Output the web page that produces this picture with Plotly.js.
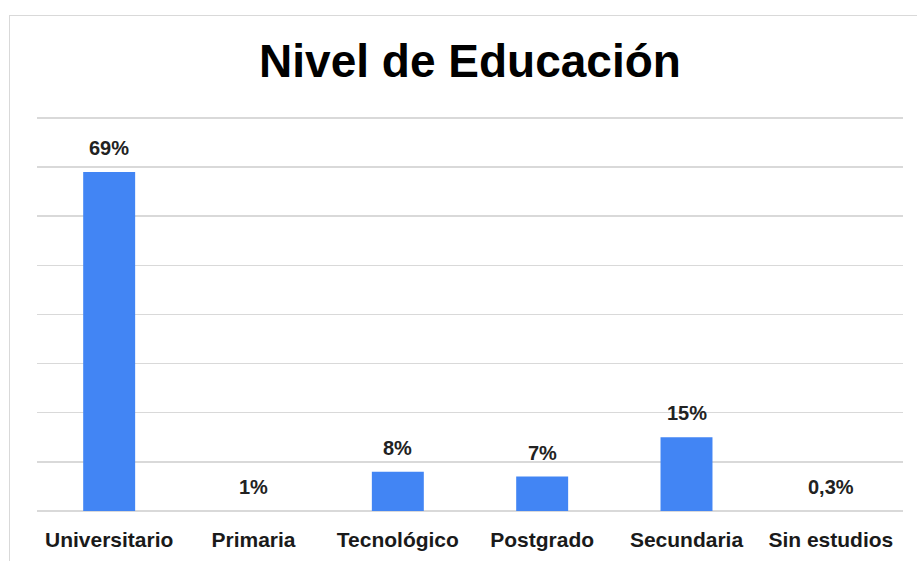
<!DOCTYPE html>
<html>
<head>
<meta charset="utf-8">
<script src="https://cdn.plot.ly/plotly-3.0.1.min.js"></script>
<style>
  html, body { margin: 0; padding: 0; overflow: hidden; background: #fff; }
  #chart { width: 917px; height: 561px; position: absolute; left: 0; top: 0; }
  #frame { position: absolute; left: 9px; top: 15px; width: 1000px; height: 1000px;
           border: 1px solid #d9d9d9; pointer-events: none; }
</style>
</head>
<body>
<div id="chart"></div>
<div id="frame"></div>
<script>
// Data
const categories = ['Universitario', 'Primaria', 'Tecnológico', 'Postgrado', 'Secundaria', 'Sin estudios'];
const barHeights = [69, 0, 8, 7, 15, 0];          // visible bar heights (%)
const valueLabels = ['69%', '1%', '8%', '7%', '15%', '0,3%'];
const chartTitle = 'Nivel de Educación';

const FONT = 'Liberation Sans, Arial, sans-serif';

const trace = {
  type: 'bar',
  x: categories,
  y: barHeights,
  marker: { color: '#4285F4' },
  hoverinfo: 'none'
};

const annotations = categories.map((c, i) => ({
  x: c, y: barHeights[i], xref: 'x', yref: 'y',
  text: valueLabels[i], showarrow: false,
  yanchor: 'bottom', yshift: 11,
  font: { family: FONT, size: 20, color: '#222222', weight: 'bold' }
}));

const layout = {
  width: 917, height: 561,
  margin: { l: 37, r: 14, t: 113, b: 50 },
  paper_bgcolor: 'rgba(0,0,0,0)',
  plot_bgcolor: '#ffffff',
  showlegend: false,
  bargap: 0.64,
  title: {
    text: chartTitle,
    font: { family: FONT, size: 46, color: '#000000', weight: 'bold' },
    x: 0.5, xref: 'paper', xanchor: 'center',
    y: 1 - 61 / 561, yref: 'container', yanchor: 'middle'
  },
  xaxis: {
    type: 'category',
    showgrid: false, showline: false, zeroline: false,
    ticks: '', ticklabelstandoff: 14,
    tickfont: { family: FONT, size: 21, color: '#1a1a1a', weight: 'bold' }
  },
  yaxis: {
    range: [0, 81], dtick: 10, tick0: 0,
    showticklabels: false, ticks: '',
    showgrid: true, gridcolor: '#d9d9d9', gridwidth: 1.5,
    zeroline: true, zerolinecolor: '#d9d9d9', zerolinewidth: 1.5,
    showline: false
  },
  annotations: annotations
};

Plotly.newPlot('chart', [trace], layout, { staticPlot: true, displayModeBar: false });
</script>
</body>
</html>
